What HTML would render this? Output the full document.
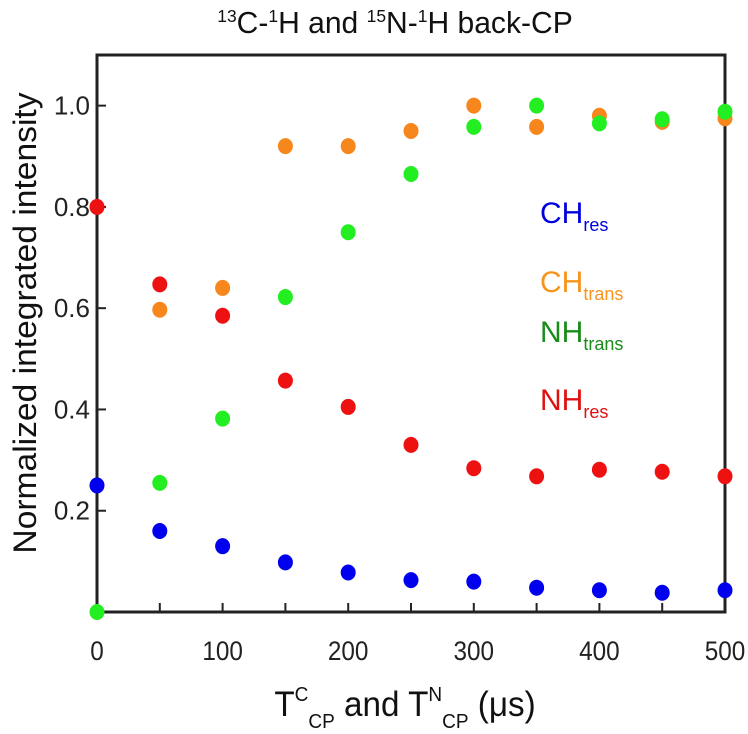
<!DOCTYPE html>
<html><head><meta charset="utf-8"><style>
html,body{margin:0;padding:0;background:#fff;}
svg{display:block;font-family:"Liberation Sans",Arial,sans-serif;}
</style></head><body>
<svg id="chart" width="748" height="734" viewBox="0 0 748 734">
<text x="395" y="33" text-anchor="middle" font-size="31" fill="#111" transform="translate(395,0) scale(0.97,1) translate(-395,0)"><tspan font-size="18" dy="-11">13</tspan><tspan dy="11">C-</tspan><tspan font-size="18" dy="-11">1</tspan><tspan dy="11">H and </tspan><tspan font-size="18" dy="-11">15</tspan><tspan dy="11">N-</tspan><tspan font-size="18" dy="-11">1</tspan><tspan dy="11">H back-CP</tspan></text>
<g id="axes"></g>
<g id="marks"></g>
<text x="405" y="716" text-anchor="middle" font-size="35" fill="#111" transform="translate(405,0) scale(0.95,1) translate(-405,0)">T<tspan font-size="20" dy="-15">C</tspan><tspan font-size="20" dy="27">CP</tspan><tspan dy="-12"> and T</tspan><tspan font-size="20" dy="-15">N</tspan><tspan font-size="20" dy="27">CP</tspan><tspan dy="-12"> (μs)</tspan></text>
<text transform="translate(36,323) rotate(-90) scale(1.05,1)" text-anchor="middle" font-size="32" fill="#111">Normalized integrated intensity</text>
<g>
<text x="540" y="223" font-size="30" fill="#0000dd">CH<tspan font-size="18" dy="8">res</tspan></text>
<text x="540" y="292" font-size="30" fill="#f7941d">CH<tspan font-size="18" dy="8">trans</tspan></text>
<text x="540" y="342" font-size="30" fill="#1a8c1a">NH<tspan font-size="18" dy="8">trans</tspan></text>
<text x="540" y="410" font-size="30" fill="#e01010">NH<tspan font-size="18" dy="8">res</tspan></text>
</g>
</svg>
<script>
const times = [0,50,100,150,200,250,300,350,400,450,500];
const chResTimes = [0,50,100,150,200,250,300,350,400,450,500];
const chRes = [0.25,0.16,0.13,0.098,0.078,0.063,0.06,0.048,0.043,0.038,0.043];
const chTransTimes = [50,100,150,200,250,300,350,400,450,500];
const chTrans = [0.597,0.64,0.92,0.92,0.95,1.0,0.958,0.98,0.968,0.975];
const nhTransTimes = [0,50,100,150,200,250,300,350,400,450,500];
const nhTrans = [0.0,0.255,0.382,0.622,0.75,0.865,0.958,1.0,0.965,0.973,0.988];
const nhResTimes = [0,50,100,150,200,250,300,350,400,450,500];
const nhRes = [0.8,0.647,0.585,0.457,0.405,0.33,0.284,0.268,0.281,0.277,0.268];
const xTicks = [0,50,100,150,200,250,300,350,400,450,500];
const xTickLabels = ["0","100","200","300","400","500"];
const yTicks = [0.2,0.4,0.6,0.8,1.0];
const yTickLabels = ["0.2","0.4","0.6","0.8","1.0"];

const L=97,R=725,T=55,B=612;
const xMin=0,xMax=500,yMin=0,yMax=1.1;
function sx(v){return L+(v-xMin)/(xMax-xMin)*(R-L);}
function sy(v){return B-(v-yMin)/(yMax-yMin)*(B-T);}
const NS="http://www.w3.org/2000/svg";
function mk(tag,attrs,parent){const e=document.createElementNS(NS,tag);for(const k in attrs)e.setAttribute(k,attrs[k]);parent.appendChild(e);return e;}
const axes=document.getElementById('axes');
const frame=mk('rect',{x:L,y:T,width:R-L,height:B-T,fill:'none',stroke:'#222','stroke-width':3},axes);


xTicks.forEach(t=>{
  const l=mk('line',{x1:sx(t),x2:sx(t),y1:B,y2:B-9,stroke:'#222','stroke-width':2},axes);
  
  
});
xTickLabels.forEach(s=>{
  const tx=mk('text',{x:sx(+s),y:660,'text-anchor':'middle','font-size':27,fill:'#222',transform:'translate('+sx(+s)+',0) scale(0.9,1) translate('+(-sx(+s))+',0)'},axes);
  tx.textContent=s;
  
  
});
yTicks.forEach((t,i)=>{
  const l=mk('line',{x1:L,x2:L+9,y1:sy(t),y2:sy(t),stroke:'#222','stroke-width':2},axes);
  
  
  const tx=mk('text',{x:L-7,y:sy(t)+9,'text-anchor':'end','font-size':26,fill:'#222'},axes);
  tx.textContent=yTickLabels[i];
  
  
});
const marks=document.getElementById('marks');
function series(xs,ys,color,name){
  const g=mk('g',{},marks);
  
  
  xs.forEach((x,i)=>{
    const c=mk('ellipse',{cx:sx(x),cy:sy(ys[i]),rx:7.5,ry:8,fill:color},g);
    
    
  });
}
series(chTransTimes,chTrans,'#f7861d','ch-trans');
series(nhTransTimes,nhTrans,'#22ee22','nh-trans');
series(chResTimes,chRes,'#0000ee','ch-res');
series(nhResTimes,nhRes,'#ee1111','nh-res');
</script>
</body></html>
